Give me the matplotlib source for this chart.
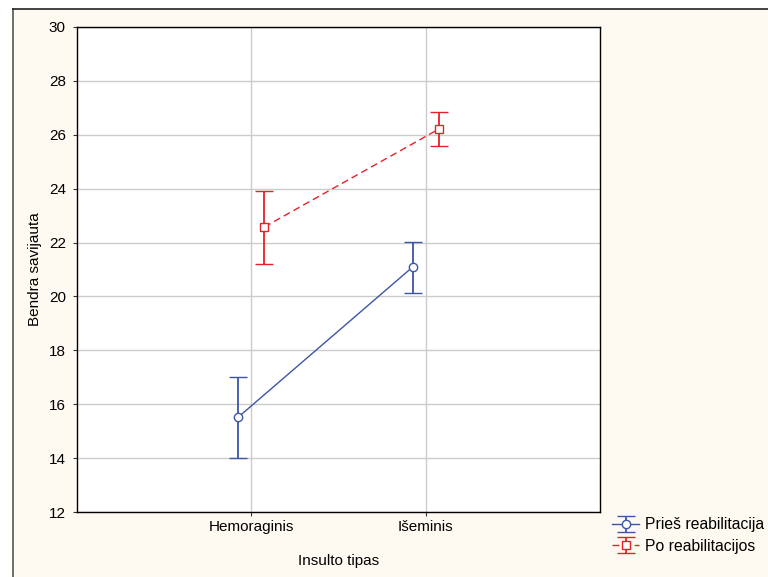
import matplotlib
matplotlib.use("Agg")
import matplotlib.pyplot as plt
from matplotlib.patches import Rectangle
from matplotlib.lines import Line2D
import numpy as np

plt.rcParams['font.family'] = ['Liberation Sans', 'DejaVu Sans']

categories = ["Hemoraginis", "Išeminis"]
series_names = ["Prieš reabilitacija", "Po reabilitacijos"]
before_mean = [15.52, 21.09]
before_low = [14.02, 20.13]
before_high = [17.02, 22.02]
after_mean = [22.58, 26.21]
after_low = [21.20, 25.58]
after_high = [23.91, 26.84]

blue = '#3D56A6'
red = '#E8202A'
cream = '#FFFAF1'

fig = plt.figure(figsize=(7.68, 5.77), dpi=100)
fig.patch.set_facecolor('white')
W, H = 768, 577
# cream panel
fig.patches.append(Rectangle((12.5 / W, 0), 1 - 12.5 / W, 1 - 9 / H, transform=fig.transFigure,
                             facecolor=cream, edgecolor='none', zorder=-5))
fig.add_artist(Line2D([12.5 / W, 12.5 / W], [0, 1 - 9 / H], transform=fig.transFigure, color='#555555', lw=1.2, zorder=-4))
fig.add_artist(Line2D([12.5 / W, 1], [1 - 9 / H, 1 - 9 / H], transform=fig.transFigure, color='#222222', lw=1.2, zorder=-4))

ax = fig.add_axes([77 / W, 1 - 512 / H, (600 - 77) / W, (512 - 27) / H])
ax.set_zorder(1)
ax.set_facecolor('white')

x = np.arange(len(categories))
off = 0.075
b_err = [np.array(before_mean) - np.array(before_low), np.array(before_high) - np.array(before_mean)]
a_err = [np.array(after_mean) - np.array(after_low), np.array(after_high) - np.array(after_mean)]

ax.errorbar(x - off, before_mean, yerr=b_err, color=blue, lw=1.0, marker='o', ms=6,
            mfc='white', mec=blue, mew=1.0, capsize=6.5, capthick=1.3, elinewidth=1.3,
            ecolor=blue, label=series_names[0], zorder=3)
ax.errorbar(x + off, after_mean, yerr=a_err, color=red, lw=1.0, ls=(0, (5, 3)), marker='s', ms=6,
            mfc='white', mec=red, mew=1.0, capsize=6.5, capthick=1.3, elinewidth=1.3,
            ecolor=red, label=series_names[1], zorder=3)

ax.set_xlim(-1, 2)
ax.set_ylim(12, 30)
ax.set_xticks(x)
ax.set_xticklabels(categories)
ax.set_yticks(np.arange(12, 31, 2))
ax.grid(True, color='#cccccc', lw=1.0)
ax.set_axisbelow(True)
for s in ax.spines.values():
    s.set_color('black')
    s.set_linewidth(1.0)
ax.tick_params(axis='both', labelsize=11, length=3, direction='out', color='#333333')
ax.tick_params(axis='y', pad=5)
ax.tick_params(axis='x', pad=3)
ax.set_ylabel("Bendra savijauta", fontsize=11, labelpad=5)
ax.set_xlabel("Insulto tipas", fontsize=11, labelpad=14)

leg = fig.legend(loc='upper left', bbox_to_anchor=(606 / W, 1 - 511 / H), frameon=False,
                 fontsize=11.3, handlelength=1.7, handletextpad=0.4, borderaxespad=0, labelspacing=0.4)

fig.savefig("out.png", dpi=100, facecolor=fig.get_facecolor())
